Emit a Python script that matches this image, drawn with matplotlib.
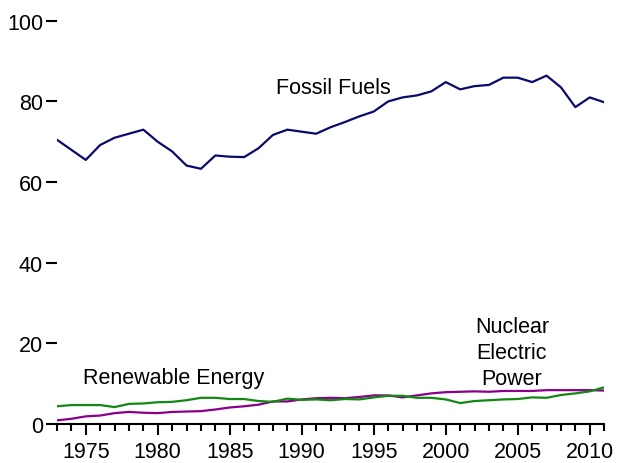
import numpy as np
import matplotlib.pyplot as plt
from matplotlib.ticker import MultipleLocator

plt.rcParams['font.family'] = ['Liberation Sans', 'DejaVu Sans']

# US primary energy consumption by source
years = list(range(1973, 2012))
fossil = [70.5, 68.0, 65.5, 69.2, 71.0, 72.0, 73.0, 70.0, 67.6, 64.1,
          63.3, 66.6, 66.3, 66.2, 68.4, 71.7, 73.0, 72.5, 72.0, 73.6,
          74.9, 76.3, 77.5, 80.0, 81.0, 81.5, 82.5, 84.8, 83.0, 83.8,
          84.1, 85.9, 85.9, 84.8, 86.4, 83.5, 78.6, 81.0, 79.8]
renewable = [4.4, 4.7, 4.7, 4.7, 4.2, 5.0, 5.1, 5.4, 5.5, 5.9,
             6.5, 6.5, 6.2, 6.2, 5.7, 5.5, 6.3, 6.0, 6.1, 5.9,
             6.2, 6.1, 6.6, 7.0, 7.0, 6.5, 6.5, 6.1, 5.2, 5.7,
             5.9, 6.1, 6.2, 6.6, 6.5, 7.2, 7.6, 8.1, 9.1]
nuclear = [0.9, 1.3, 1.9, 2.1, 2.7, 3.0, 2.8, 2.7, 3.0, 3.1,
           3.2, 3.6, 4.1, 4.4, 4.8, 5.6, 5.6, 6.1, 6.4, 6.5,
           6.4, 6.7, 7.1, 7.1, 6.6, 7.1, 7.6, 7.9, 8.0, 8.1,
           8.0, 8.2, 8.2, 8.2, 8.4, 8.4, 8.4, 8.4, 8.3]

fig = plt.figure(figsize=(6.19, 4.64), dpi=100)
ax = fig.add_axes([0.092, 0.084, 0.884, 0.869])

ax.plot(years, fossil, color='#0a0a6e', lw=1.6)
ax.plot(years, nuclear, color='#8b008b', lw=1.6)
ax.plot(years, renewable, color='#118811', lw=1.6)

ax.set_xlim(1973, 2011)
ax.set_ylim(0, 100)

for side in ['top', 'right', 'left']:
    ax.spines[side].set_visible(False)
ax.spines['bottom'].set_linewidth(1.5)

ax.xaxis.set_major_locator(MultipleLocator(5))
ax.xaxis.set_minor_locator(MultipleLocator(1))
ax.yaxis.set_major_locator(MultipleLocator(20))
ax.tick_params(axis='x', which='major', length=8, width=1.5, labelsize=15.5, pad=4)
ax.tick_params(axis='x', which='minor', length=5, width=1.5)
ax.tick_params(axis='y', length=8, width=1.5, labelsize=15.5, pad=2)

ax.text(1988.2, 83.5, 'Fossil Fuels', fontsize=15.5, ha='left', va='center')
ax.text(1974.8, 11.5, 'Renewable Energy', fontsize=15.5, ha='left', va='center')
ax.text(2004.6, 17.7, 'Nuclear\nElectric\nPower', fontsize=15.5, ha='center', va='center',
        linespacing=1.3)

fig.savefig('out.png', dpi=100)
